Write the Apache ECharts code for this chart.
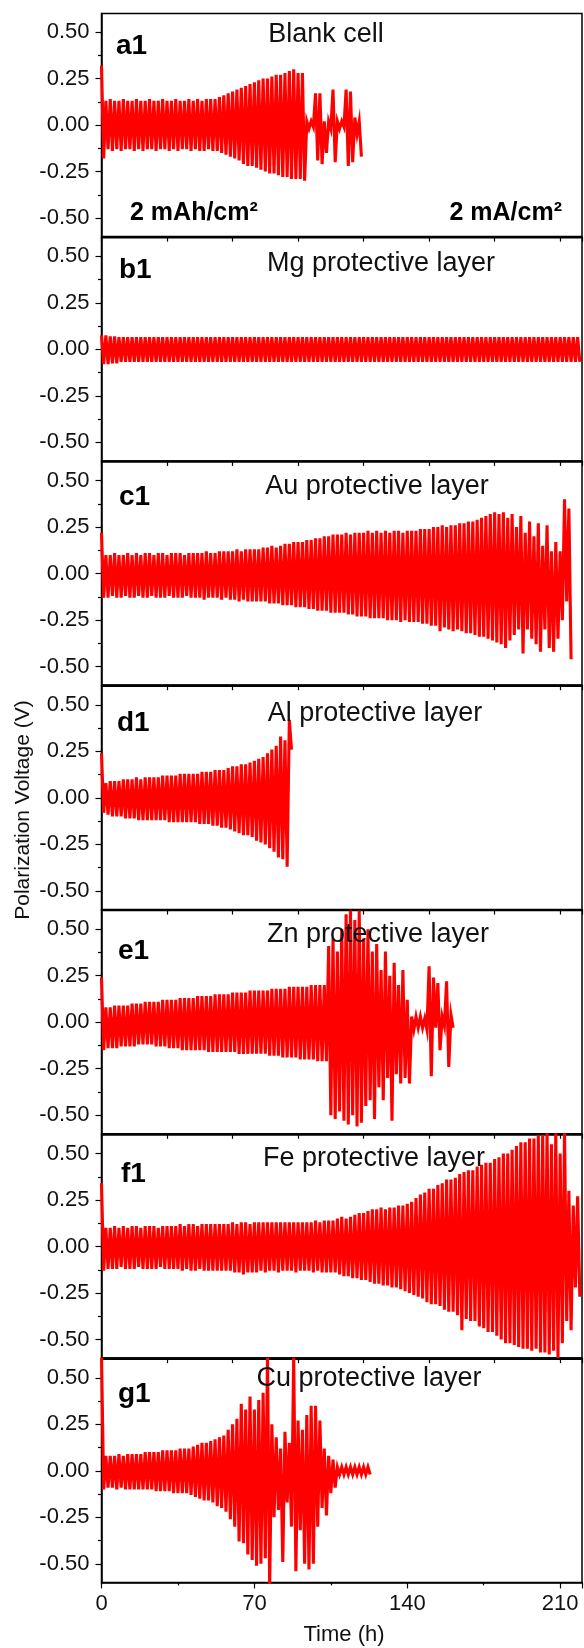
<!DOCTYPE html>
<html>
<head>
<meta charset="utf-8">
<script src="https://cdn.jsdelivr.net/npm/echarts@6.0.0/dist/echarts.min.js"></script>
<style>
  html, body { margin: 0; padding: 0; background: #fff; }
  #chart { width: 584px; height: 1648px; }
</style>
</head>
<body>
<div id="chart"></div>
<script>
// one cycle = 1 h positive + 1 h negative (2 mA/cm2, 2 mAh/cm2)
const cycleH = 2;
const halfH = 1;
const xMax = 220;
const yTicks = [-0.5, -0.25, 0, 0.25, 0.5];
const yMinor = [-0.375, -0.125, 0.125, 0.375];
const xTicksTop = 30;
const xTicksBottom = 70;

// peak voltage of every cycle (V)
const aUp = [0.32,
  0.13,0.14,0.13,0.13,0.14,0.13,0.13,0.14,0.13,0.13,
  0.14,0.13,0.13,0.14,0.13,0.13,0.14,0.13,0.13,0.14,
  0.13,0.14,0.13,0.14,0.14,
  0.14,0.15,0.16,0.17,0.18,0.19,0.20,0.21,0.22,0.23,
  0.24,0.25,0.25,0.26,0.27,0.27,0.28,0.29,0.30,0.28,0.28,
  0.02,0.02,0.17,0.17,0.02,0.02,0.19,0.02,0.02,0.19,0.18,0.04,0.02];
const aDn = [-0.18,
  -0.13,-0.14,-0.13,-0.14,-0.13,-0.13,-0.14,-0.13,-0.14,-0.13,
  -0.13,-0.14,-0.13,-0.13,-0.14,-0.13,-0.14,-0.13,-0.13,-0.14,
  -0.13,-0.14,-0.14,-0.13,-0.14,
  -0.14,-0.15,-0.16,-0.17,-0.18,-0.19,-0.21,-0.22,-0.22,-0.23,
  -0.24,-0.25,-0.26,-0.26,-0.27,-0.28,-0.28,-0.29,-0.29,-0.29,-0.30,
  -0.02,-0.01,-0.19,-0.21,-0.15,-0.02,-0.20,-0.02,-0.01,-0.22,-0.20,-0.05,-0.17];

const bUp = [0.075,0.075,0.07,0.07,
  0.065,0.065,0.065,0.065,0.065,0.065,0.065,0.065,0.065,0.065,
  0.065,0.065,0.065,0.065,0.065,0.065,0.065,0.065,0.065,0.065,
  0.065,0.065,0.065,0.065,0.065,0.065,0.065,0.065,0.065,0.065,
  0.065,0.065,0.065,0.065,0.065,0.065,0.065,0.065,0.065,0.065,
  0.065,0.065,0.065,0.065,0.065,0.065,0.065,0.065,0.065,0.065,
  0.065,0.065,0.065,0.065,0.065,0.065,0.065,0.065,0.065,0.065,
  0.065,0.065,0.065,0.065,0.065,0.065,0.065,0.065,0.065,0.065,
  0.065,0.065,0.065,0.065,0.065,0.065,0.065,0.065,0.065,0.065,
  0.065,0.065,0.065,0.065,0.065,0.065,0.065,0.065,0.065,0.065,
  0.065,0.065,0.065,0.065,0.065,0.065,0.065,0.065,0.065,0.065,
  0.065,0.065,0.065,0.065,0.065,0.065];
const bDn = [-0.08,-0.08,-0.075,-0.075,
  -0.068,-0.068,-0.068,-0.068,-0.068,-0.068,-0.068,-0.068,-0.068,-0.068,
  -0.068,-0.068,-0.068,-0.068,-0.068,-0.068,-0.068,-0.068,-0.068,-0.068,
  -0.068,-0.068,-0.068,-0.068,-0.068,-0.068,-0.068,-0.068,-0.068,-0.068,
  -0.068,-0.068,-0.068,-0.068,-0.068,-0.068,-0.068,-0.068,-0.068,-0.068,
  -0.068,-0.068,-0.068,-0.068,-0.068,-0.068,-0.068,-0.068,-0.068,-0.068,
  -0.068,-0.068,-0.068,-0.068,-0.068,-0.068,-0.068,-0.068,-0.068,-0.068,
  -0.068,-0.068,-0.068,-0.068,-0.068,-0.068,-0.068,-0.068,-0.068,-0.068,
  -0.068,-0.068,-0.068,-0.068,-0.068,-0.068,-0.068,-0.068,-0.068,-0.068,
  -0.068,-0.068,-0.068,-0.068,-0.068,-0.068,-0.068,-0.068,-0.068,-0.068,
  -0.068,-0.068,-0.068,-0.068,-0.068,-0.068,-0.068,-0.068,-0.068,-0.068,
  -0.068,-0.068,-0.068,-0.068,-0.068,-0.068];

const cUp = [0.22,
  0.10,0.10,0.11,0.10,0.10,0.11,0.10,0.11,0.10,0.11,
  0.11,0.10,0.11,0.11,0.10,0.11,0.11,0.11,0.10,0.11,
  0.11,0.11,0.11,0.12,0.11,
  0.11,0.12,0.12,0.12,0.12,0.13,0.12,0.13,0.13,0.13,
  0.13,0.14,0.14,0.15,0.14,0.15,0.16,0.16,0.17,0.17,
  0.17,0.18,0.18,0.19,0.19,0.20,0.20,0.21,0.21,
  0.21,0.22,0.21,0.22,0.22,0.22,0.23,0.22,0.23,
  0.22,0.23,0.22,0.23,0.23,0.22,0.23,0.23,
  0.23,0.24,0.24,0.24,0.25,0.25,0.26,0.25,0.26,
  0.26,0.27,0.27,0.28,0.28,0.29,0.30,
  0.31,0.32,0.33,0.32,
  0.33,0.30,0.32,0.25,0.31,0.22,0.28,0.20,0.27,0.15,0.26,0.12,0.17,0.12,0.40,0.35];
const cDn = [-0.13,
  -0.13,-0.12,-0.13,-0.13,-0.12,-0.13,-0.13,-0.12,-0.13,-0.13,
  -0.12,-0.13,-0.13,-0.13,-0.12,-0.13,-0.13,-0.13,-0.12,-0.13,
  -0.13,-0.13,-0.14,-0.13,-0.13,
  -0.13,-0.14,-0.13,-0.14,-0.14,-0.15,-0.14,-0.15,-0.15,-0.15,
  -0.15,-0.15,-0.16,-0.16,-0.16,-0.17,-0.17,-0.17,-0.18,-0.18,
  -0.18,-0.19,-0.19,-0.20,-0.20,-0.20,-0.21,-0.21,-0.21,
  -0.21,-0.22,-0.22,-0.23,-0.23,-0.23,-0.24,-0.24,-0.24,
  -0.24,-0.25,-0.25,-0.25,-0.26,-0.25,-0.26,-0.26,
  -0.26,-0.27,-0.27,-0.28,-0.28,-0.31,-0.29,-0.30,-0.31,
  -0.30,-0.31,-0.32,-0.32,-0.33,-0.34,-0.34,
  -0.35,-0.36,-0.37,-0.38,
  -0.40,-0.36,-0.33,-0.30,-0.43,-0.30,-0.35,-0.38,-0.42,-0.30,-0.40,-0.42,-0.35,-0.25,-0.15,-0.46];

const dUp = [0.24,
  0.08,0.09,0.09,0.09,0.10,
  0.10,0.10,0.11,0.10,0.11,0.11,0.11,
  0.11,0.12,0.12,0.12,0.12,0.13,0.13,0.13,
  0.13,0.13,0.14,0.14,0.14,0.15,0.15,0.15,
  0.16,0.17,0.17,0.18,
  0.18,0.19,0.20,0.21,
  0.22,0.24,0.26,0.28,0.33,0.31,0.42];
const dDn = [-0.08,
  -0.09,-0.10,-0.10,-0.10,-0.11,
  -0.11,-0.11,-0.12,-0.12,-0.12,-0.12,-0.12,
  -0.12,-0.12,-0.13,-0.13,-0.13,-0.13,-0.13,-0.13,
  -0.13,-0.14,-0.14,-0.14,-0.15,-0.15,-0.16,-0.16,
  -0.17,-0.18,-0.19,-0.20,
  -0.20,-0.21,-0.23,-0.24,
  -0.25,-0.27,-0.29,-0.32,-0.33,-0.37,0.26];

const eUp = [0.24,
  0.08,0.08,0.09,0.09,0.09,
  0.09,0.10,0.10,0.10,0.11,0.11,
  0.11,0.11,0.12,0.12,0.12,0.12,0.13,0.13,0.13,
  0.13,0.14,0.14,0.14,0.14,0.15,0.15,0.15,
  0.15,0.16,0.16,0.16,0.16,0.17,0.17,0.17,
  0.17,0.17,0.18,0.18,0.18,0.18,0.19,0.19,0.19,0.19,0.19,0.20,0.20,0.20,0.20,
  0.41,0.45,0.38,0.50,0.58,0.60,0.55,0.60,0.45,0.50,
  0.38,0.42,0.28,0.38,0.25,0.32,0.20,0.28,0.12,
  0.03,0.03,0.03,0.02,0.30,0.24,0.21,0.03,0.22,0.04];
const eDn = [-0.15,
  -0.14,-0.14,-0.14,-0.13,-0.13,
  -0.13,-0.13,-0.12,-0.12,-0.12,-0.12,
  -0.13,-0.13,-0.13,-0.14,-0.14,-0.14,-0.15,-0.15,-0.15,
  -0.15,-0.15,-0.15,-0.16,-0.16,-0.16,-0.16,-0.16,
  -0.16,-0.16,-0.17,-0.17,-0.17,-0.17,-0.17,-0.17,
  -0.17,-0.18,-0.18,-0.18,-0.19,-0.19,-0.19,-0.19,-0.20,-0.20,-0.20,-0.20,-0.21,-0.21,-0.21,
  -0.50,-0.52,-0.48,-0.53,-0.55,-0.50,-0.56,-0.54,-0.45,-0.42,
  -0.52,-0.35,-0.42,-0.30,-0.53,-0.28,-0.33,-0.30,-0.33,
  -0.04,-0.03,-0.03,-0.04,-0.29,-0.03,-0.15,-0.02,-0.24,-0.03];

const fUp = [0.34,
  0.10,0.10,0.11,0.10,0.11,0.10,0.11,0.11,0.10,0.11,0.11,0.11,0.10,0.11,0.11,
  0.11,0.11,0.12,0.11,0.12,0.12,0.11,0.12,0.12,0.12,0.12,0.12,0.12,
  0.12,0.13,0.12,0.13,0.13,0.12,0.13,0.13,0.13,
  0.13,0.13,0.13,0.13,0.13,0.13,0.13,0.13,0.13,0.13,0.13,0.14,0.13,0.14,0.14,
  0.14,0.15,0.16,0.15,0.16,
  0.17,0.18,0.18,0.19,0.20,
  0.20,0.21,0.20,0.21,
  0.21,0.22,0.22,0.23,0.24,
  0.26,0.28,0.29,0.31,
  0.31,0.33,0.34,0.36,
  0.36,0.37,0.39,0.40,0.41,
  0.41,0.43,0.44,0.45,
  0.45,0.47,0.48,0.50,
  0.50,0.52,0.54,0.56,
  0.56,0.58,0.58,0.60,0.60,
  0.62,0.55,0.62,0.50,0.62,0.30,0.22,0.27];
const fDn = [-0.13,
  -0.12,-0.12,-0.12,-0.11,-0.12,-0.12,-0.12,-0.11,-0.12,-0.12,-0.12,-0.12,-0.11,-0.12,-0.12,
  -0.12,-0.12,-0.13,-0.12,-0.13,-0.13,-0.12,-0.13,-0.13,-0.13,-0.13,-0.13,-0.13,
  -0.13,-0.14,-0.14,-0.15,-0.14,-0.14,-0.14,-0.13,-0.14,
  -0.13,-0.13,-0.14,-0.13,-0.13,-0.13,-0.14,-0.13,-0.13,-0.13,-0.14,-0.13,-0.14,-0.14,-0.14,
  -0.14,-0.15,-0.16,-0.16,-0.17,
  -0.17,-0.18,-0.18,-0.19,-0.20,
  -0.20,-0.21,-0.21,-0.22,
  -0.22,-0.23,-0.24,-0.25,-0.26,
  -0.27,-0.28,-0.30,-0.31,
  -0.31,-0.32,-0.34,-0.35,
  -0.35,-0.37,-0.45,-0.39,-0.40,
  -0.40,-0.43,-0.44,-0.46,
  -0.46,-0.48,-0.50,-0.52,
  -0.52,-0.53,-0.54,-0.55,
  -0.55,-0.56,-0.55,-0.57,-0.57,
  -0.58,-0.56,-0.60,-0.52,-0.40,-0.45,-0.22,-0.27];

const gUp = [0.62,
  0.08,0.08,0.08,0.09,0.08,0.09,0.09,0.09,0.09,0.10,
  0.10,0.10,0.10,0.11,0.11,0.11,0.11,0.12,0.12,
  0.12,0.13,0.14,0.15,
  0.15,0.16,0.17,0.18,
  0.19,0.22,0.25,0.28,0.36,0.33,0.40,0.33,0.38,0.42,
  0.62,0.25,0.18,0.12,0.21,0.15,0.62,0.27,0.22,0.30,
  0.35,0.35,0.27,0.12,0.08,
  0.06,0.02,0.02,0.02,0.02,0.02,0.02,0.02,0.02];
const gDn = [-0.10,
  -0.09,-0.09,-0.10,-0.09,-0.10,-0.10,-0.10,-0.10,-0.10,-0.10,
  -0.10,-0.11,-0.11,-0.11,-0.11,-0.12,-0.12,-0.12,-0.12,
  -0.13,-0.14,-0.15,-0.16,
  -0.16,-0.17,-0.19,-0.20,
  -0.22,-0.26,-0.30,-0.38,-0.39,-0.45,-0.48,-0.51,-0.50,-0.47,
  -0.62,-0.25,-0.21,-0.49,-0.17,-0.30,-0.54,-0.32,-0.50,-0.53,
  -0.50,-0.30,-0.20,-0.24,-0.12,
  -0.09,-0.02,-0.02,-0.02,-0.02,-0.02,-0.02,-0.02,-0.02];

const panels = [
  {tag: 'a1', title: 'Blank cell', up: aUp, dn: aDn, tx: 326, ty: 35, lx: 116, ly: 46},
  {tag: 'b1', title: 'Mg protective layer', up: bUp, dn: bDn, tx: 381, ty: 264, lx: 119, ly: 270},
  {tag: 'c1', title: 'Au protective layer', up: cUp, dn: cDn, tx: 377, ty: 487, lx: 119, ly: 497},
  {tag: 'd1', title: 'Al protective layer', up: dUp, dn: dDn, tx: 375, ty: 714, lx: 117, ly: 723},
  {tag: 'e1', title: 'Zn protective layer', up: eUp, dn: eDn, tx: 378, ty: 935, lx: 118, ly: 951},
  {tag: 'f1', title: 'Fe protective layer', up: fUp, dn: fDn, tx: 374, ty: 1159, lx: 121, ly: 1174},
  {tag: 'g1', title: 'Cu protective layer', up: gUp, dn: gDn, tx: 369, ty: 1379, lx: 118, ly: 1394}
];

function wave(up, dn) {
  let pts = [];
  up.forEach((u, k) => {
    pts.push([k * cycleH, u]);
    pts.push([k * cycleH + halfH, dn[k]]);
  });
  return pts;
}

const font = "'Liberation Sans', Arial, sans-serif";
let grid = [], xAxis = [], yAxis = [], series = [], graphic = [];
let last = panels.length - 1;

panels.forEach((p, i) => {
  grid.push({
    left: 101.5, width: 480.5, top: 13.4 + i * 224.3, height: 223.2,
    show: true, borderColor: '#000', borderWidth: 1.5, backgroundColor: 'transparent'
  });
  xAxis.push({
    gridIndex: i, type: 'value', min: 0, max: xMax,
    interval: i === last ? xTicksBottom : xTicksTop,
    axisLine: {show: true, onZero: false, lineStyle: {color: '#000', width: 1.5}},
    axisTick: {show: true, length: i === last ? 6 : 5, lineStyle: {color: '#000', width: 1.2}},
    minorTick: {show: i === last, splitNumber: 2, length: 3, lineStyle: {color: '#000', width: 1.2}},
    axisLabel: {show: i === last, fontSize: 22, color: '#111', fontFamily: font, margin: 11},
    splitLine: {show: false}
  });
  yAxis.push({
    gridIndex: i, type: 'value', min: -0.6, max: 0.6, position: 'left',
    axisLine: {show: true, lineStyle: {color: '#000', width: 1.5}},
    axisTick: {show: true, length: 6, customValues: yTicks, lineStyle: {color: '#000', width: 1.2}},
    axisLabel: {customValues: yTicks, formatter: v => v.toFixed(2), fontSize: 22, color: '#111', fontFamily: font, margin: 12},
    splitLine: {show: false}
  });
  yAxis.push({
    gridIndex: i, type: 'value', min: -0.6, max: 0.6, position: 'left',
    axisLine: {show: false},
    axisTick: {show: true, length: 3.5, customValues: yMinor, lineStyle: {color: '#000', width: 1.2}},
    axisLabel: {show: false},
    splitLine: {show: false}
  });
  series.push({
    type: 'line', xAxisIndex: i, yAxisIndex: i * 2,
    data: wave(p.up, p.dn),
    showSymbol: false, symbol: 'none', clip: true,
    lineStyle: {color: '#ff0000', width: 3.1, join: 'miter'},
    silent: true
  });
  graphic.push({
    type: 'text', x: p.tx, y: p.ty, z: 100,
    style: {text: p.title, font: '27px ' + font, fill: '#111', align: 'center', verticalAlign: 'middle',
      textAlign: 'center', textVerticalAlign: 'middle'}
  });
  graphic.push({
    type: 'text', x: p.lx, y: p.ly, z: 100,
    style: {text: p.tag, font: 'bold 28px ' + font, fill: '#000', align: 'left', verticalAlign: 'middle',
      textAlign: 'left', textVerticalAlign: 'middle'}
  });
});

graphic.push({
  type: 'text', x: 130, y: 213, z: 100,
  style: {text: '2 mAh/cm²', font: 'bold 25px ' + font, fill: '#000', align: 'left', verticalAlign: 'middle',
    textAlign: 'left', textVerticalAlign: 'middle'}
});
graphic.push({
  type: 'text', x: 562, y: 213, z: 100,
  style: {text: '2 mA/cm²', font: 'bold 25px ' + font, fill: '#000', align: 'right', verticalAlign: 'middle',
    textAlign: 'right', textVerticalAlign: 'middle'}
});
graphic.push({
  type: 'text', x: 23, y: 810, rotation: Math.PI / 2, z: 100,
  style: {text: 'Polarization Voltage (V)', font: '21px ' + font, fill: '#111', align: 'center', verticalAlign: 'middle',
    textAlign: 'center', textVerticalAlign: 'middle'}
});
graphic.push({
  type: 'text', x: 344, y: 1635, z: 100,
  style: {text: 'Time (h)', font: '22px ' + font, fill: '#111', align: 'center', verticalAlign: 'middle',
    textAlign: 'center', textVerticalAlign: 'middle'}
});

let chart = echarts.init(document.getElementById('chart'), null, {renderer: 'canvas'});
chart.setOption({
  animation: false,
  backgroundColor: '#fff',
  grid: grid,
  xAxis: xAxis,
  yAxis: yAxis,
  series: series,
  graphic: graphic
});
</script>
</body>
</html>
